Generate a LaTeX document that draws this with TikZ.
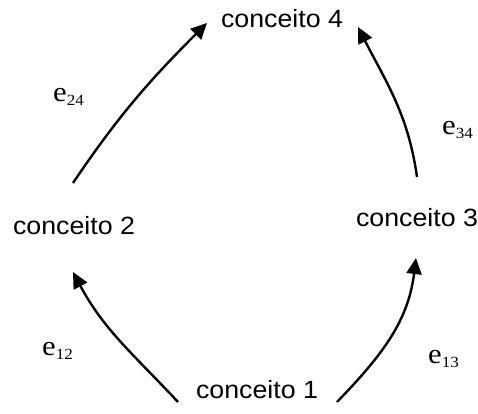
\documentclass[tikz,border=0pt]{standalone}
\usepackage{fontspec}
\usetikzlibrary{arrows.meta}
\newfontfamily\arialx[FakeStretch=1.07]{Liberation Sans}
\newfontfamily\timesx[FakeStretch=1.1]{Liberation Serif}
\newcommand{\subtxt}[1]{\raisebox{-4pt}{\fontsize{15.5pt}{15.5pt}\selectfont #1}}
\tikzset{
  concept/.style={inner sep=0pt, anchor=base, font=\arialx\fontsize{25pt}{25pt}\selectfont},
  lbl/.style={inner sep=0pt, anchor=base west, font=\timesx\fontsize{28pt}{28pt}\selectfont},
  arr/.style={line width=2.4pt, -{Triangle[length=16pt,width=15pt]}}
}
\begin{document}
\begin{tikzpicture}[x=1pt,y=1pt]
\useasboundingbox (0,0) rectangle (478,413);
\node[concept] (c1) at (257,15) {conceito 1};
\node[concept] (c2) at (74,179) {conceito 2};
\node[concept] (c3) at (417,187) {conceito 3};
\node[concept] (c4) at (282,385) {conceito 4};
\draw[arr] ([shift={(-79,-4)}]c1.base) to[out=133,in=-62] ([shift={(-1,-38)}]c2.base);
\draw[arr] ([shift={(80,-4)}]c1.base) to[out=46,in=-97] ([shift={(-1,-32)}]c3.base);
\draw[arr] ([shift={(-1,51)}]c2.base) to[out=56,in=-135] ([shift={(-75,5)}]c4.base);
\draw[arr] ([shift={(0,49)}]c3.base) to[out=98,in=-63] ([shift={(76,1)}]c4.base);
\node[lbl] (l24) at (53,311) {e\subtxt{24}};
\node[lbl] (l34) at (442,279) {e\subtxt{34}};
\node[lbl] (l12) at (42,58) {e\subtxt{12}};
\node[lbl] (l13) at (428,50) {e\subtxt{13}};
\end{tikzpicture}
\end{document}
